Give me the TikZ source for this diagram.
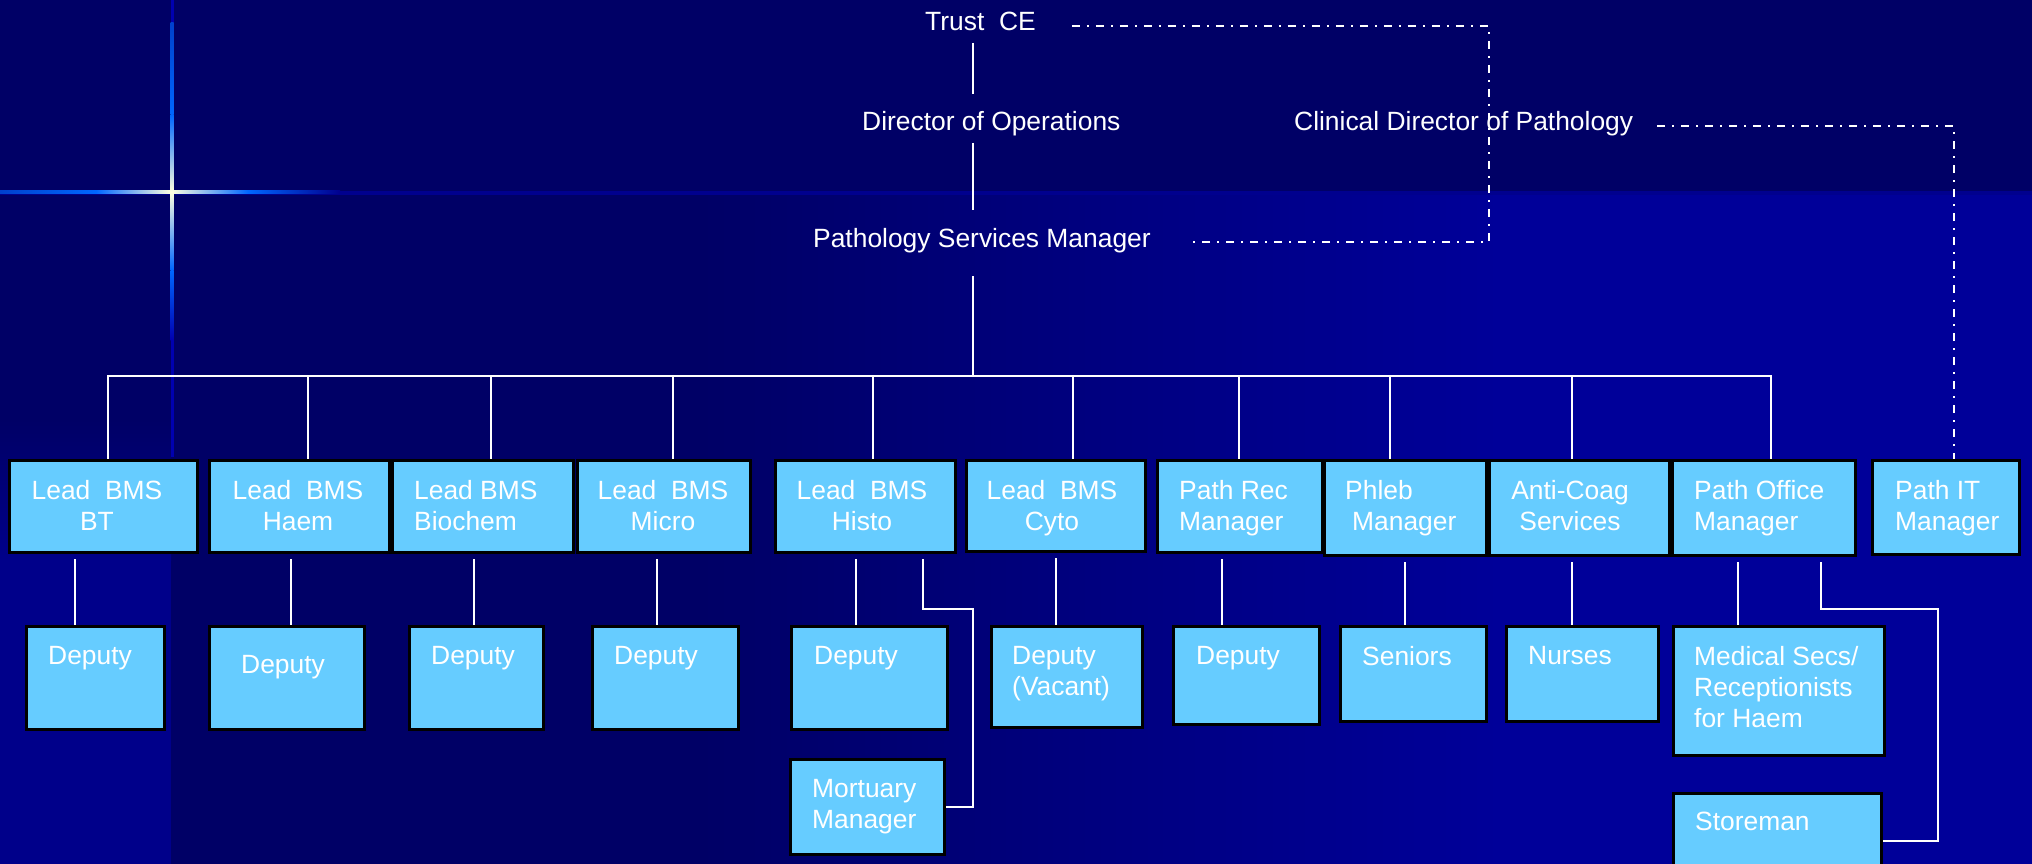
\documentclass[tikz,border=0pt]{standalone}
\usepackage{fontspec}
\setmainfont{Liberation Sans}
\usetikzlibrary{calc}
\definecolor{bgdark}{HTML}{000066}
\definecolor{bglight}{HTML}{000099}
\definecolor{stripc}{HTML}{00008A}
\definecolor{bandc}{HTML}{00008E}
\definecolor{faintc}{HTML}{0000B0}
\definecolor{boxfill}{HTML}{66CCFF}
\definecolor{starblue}{HTML}{0066FF}
\definecolor{stardeep}{HTML}{0040CC}
\definecolor{starwhite}{HTML}{FFFFE0}
\pgfdeclarelayer{back}
\pgfdeclarelayer{mid}
\pgfsetlayers{back,mid,main}
\newcommand\bx[5]{\node[box,minimum width={#4pt-#2pt-3pt},minimum height={#5pt-#3pt-3pt}] (#1) at ({(#2+#4)/2},{(#3+#5)/2}) {};}
\begin{document}
\begin{tikzpicture}[x=1pt,y=-1pt,
  box/.style={draw=black,line width=3pt,fill=boxfill,inner sep=0pt},
  txt/.style={text=white,inner sep=0pt,font=\fontsize{26.4}{31}\selectfont},
  wl/.style={draw=white,line width=2pt},
  dd/.style={draw=white,line width=2pt,dash pattern=on 8pt off 7pt on 2pt off 7pt}]
\useasboundingbox (0,0) rectangle (2032,864);
\clip (0,0) rectangle (2032,864);

% ---------- background ----------
\begin{pgfonlayer}{back}
\fill[bgdark] (0,0) rectangle (2032,864);
\shade[left color=bgdark,right color=bglight] (700,193) rectangle (1500,864);
\fill[bglight] (1500,193) rectangle (2032,864);
\shade[top color=bgdark,bottom color=stripc] (0,420) rectangle (171,560);
\fill[stripc] (0,560) rectangle (171,864);
\fill[bandc] (0,190.5) rectangle (2032,194.5);
% star
\shade[left color=stardeep,right color=starblue] (0,190.5) rectangle (96,193.5);
\shade[left color=starblue,right color=starwhite] (96,190.5) rectangle (171,193.5);
\shade[left color=starwhite,right color=starblue] (171,190.5) rectangle (248,193.5);
\shade[left color=starblue,right color=bandc] (248,190.5) rectangle (340,193.5);
\fill[faintc] (170.5,0) rectangle (173.5,23);
\shade[top color=stardeep,bottom color=starblue] (170.5,23) rectangle (173.5,115);
\shade[top color=starblue,bottom color=starwhite] (170.5,115) rectangle (173.5,192);
\shade[top color=starwhite,bottom color=starblue] (170.5,192) rectangle (173.5,270);
\shade[top color=starblue,bottom color=faintc] (170.5,270) rectangle (173.5,340);
\fill[faintc] (170.5,340) rectangle (173.5,457);
\end{pgfonlayer}

% ---------- top titles ----------
\node[txt,anchor=base west] (tce) at (925,31) {Trust~~CE};
\node[txt,anchor=base west] (doo) at (862,131) {Director of Operations};
\node[txt,anchor=base west] (cd) at (1294,131) {Clinical Director of Pathology};
\node[txt,anchor=base west] (psm) at (813,247) {Pathology Services Manager};

% ---------- first row ----------
\bx{bt}{8}{459}{199}{554}
\bx{haem}{208}{459}{391}{554}
\bx{bio}{391}{459}{575}{554}
\bx{micro}{576}{459}{752}{554}
\bx{histo}{774}{459}{957}{554}
\bx{cyto}{965}{459}{1147}{553}
\bx{prec}{1156}{459}{1324}{554}
\bx{phleb}{1323}{459}{1488}{557}
\bx{acoag}{1488}{459}{1671}{557}
\bx{poff}{1671}{459}{1857}{557}
\bx{pit}{1871}{459}{2021}{556}

\node[txt,align=center,anchor=north] (btT) at (97,480) {Lead~~BMS\\BT};
\node[txt,align=center,anchor=north] (haemT) at (298,480) {Lead~~BMS\\Haem};
\node[txt,align=left,anchor=north west] (bioT) at (414,480) {Lead BMS\\Biochem};
\node[txt,align=center,anchor=north] (microT) at (663,480) {Lead~~BMS\\Micro};
\node[txt,align=center,anchor=north] (histoT) at (862,480) {Lead~~BMS\\Histo};
\node[txt,align=center,anchor=north] (cytoT) at (1052,480) {Lead~~BMS\\Cyto};
\node[txt,align=left,anchor=north west] (precT) at (1179,480) {Path Rec\\Manager};
\node[txt,align=left,anchor=north west] (phlebT) at (1345,480) {Phleb\\\hspace*{7pt}Manager};
\node[txt,align=center,anchor=north] (acoagT) at (1570,480) {Anti-Coag\\Services};
\node[txt,align=left,anchor=north west] (poffT) at (1694,480) {Path Office\\Manager};
\node[txt,align=left,anchor=north west] (pitT) at (1895,480) {Path IT\\Manager};

% ---------- second row ----------
\bx{dbt}{25}{625}{166}{731}
\bx{dhaem}{208}{625}{366}{731}
\bx{dbio}{408}{625}{545}{731}
\bx{dmicro}{591}{625}{740}{731}
\bx{dhisto}{790}{625}{949}{731}
\bx{mort}{789}{758}{946}{856}
\bx{dcyto}{990}{625}{1144}{729}
\bx{dprec}{1172}{625}{1321}{726}
\bx{sen}{1339}{625}{1488}{723}
\bx{nur}{1505}{625}{1660}{723}
\bx{med}{1672}{625}{1886}{757}
\bx{store}{1672}{792}{1883}{890}

\node[txt,anchor=north west] (dbtT) at (48,646) {Deputy};
\node[txt,anchor=north west] (dhaemT) at (241,655) {Deputy};
\node[txt,anchor=north west] (dbioT) at (431,646) {Deputy};
\node[txt,anchor=north west] (dmicroT) at (614,646) {Deputy};
\node[txt,anchor=north west] (dhistoT) at (814,646) {Deputy};
\node[txt,align=left,anchor=north west] (dcytoT) at (1012,646) {Deputy\\(Vacant)};
\node[txt,anchor=north west] (dprecT) at (1196,646) {Deputy};
\node[txt,anchor=north west] (senT) at (1362,646) {Seniors};
\node[txt,anchor=north west] (nurT) at (1528,646) {Nurses};
\node[txt,align=left,anchor=north west] (medT) at (1694,646) {Medical Secs/\\Receptionists\\for Haem};
\node[txt,align=left,anchor=north west] (mortT) at (812,779) {Mortuary\\Manager};
\node[txt,anchor=north west] (storeT) at (1695,812) {Storeman};

% ---------- connectors ----------
\begin{pgfonlayer}{mid}
\coordinate (spine) at (973,0);
\coordinate (bus) at (973,376);
\draw[wl] ($(spine |- tce.base)+(0,12)$) -- ($(spine |- doo.base)+(0,-37)$);
\draw[wl] ($(spine |- doo.base)+(0,12)$) -- ($(spine |- psm.base)+(0,-37)$);
\draw[wl] ($(spine |- psm.base)+(0,29)$) -- (bus);
\draw[wl,line cap=rect] (108,0 |- bus) -- (1771,0 |- bus);
\foreach \x/\n in {108/bt,308/haem,491/bio,673/micro,873/histo,1073/cyto,1239/prec,1390/phleb,1572/acoag,1771/poff}
  \draw[wl] (\x,0 |- bus) -- (\x,0 |- \n.north);
\foreach \x/\a/\b in {75/bt/dbt,291/haem/dhaem,474/bio/dbio,657/micro/dmicro,856/histo/dhisto,1056/cyto/dcyto,1222/prec/dprec,1405/phleb/sen,1572/acoag/nur,1738/poff/med}
  \draw[wl] (\x,0 |- \a.south) ++(0,5) -- (\x,0 |- \b.north);
\draw[wl] (923,0 |- histo.south) ++(0,5) |- (973,609) |- (mort.east);
\draw[wl] (1821,0 |- poff.south) ++(0,5) |- (1938,609) |- (store.east);
% dash-dot links
\coordinate (tcecorner) at (1489,242);
\draw[dd] ($(tce.base east)+(36,-5)$) -| (tcecorner) -- ($(psm.base east)+(41,-5)$);
\coordinate (pitc) at (1954,0 |- pit.north);
\draw[dd] ($(cd.base east)+(24,-5)$) -| (pitc);
\end{pgfonlayer}
\end{tikzpicture}
\end{document}
